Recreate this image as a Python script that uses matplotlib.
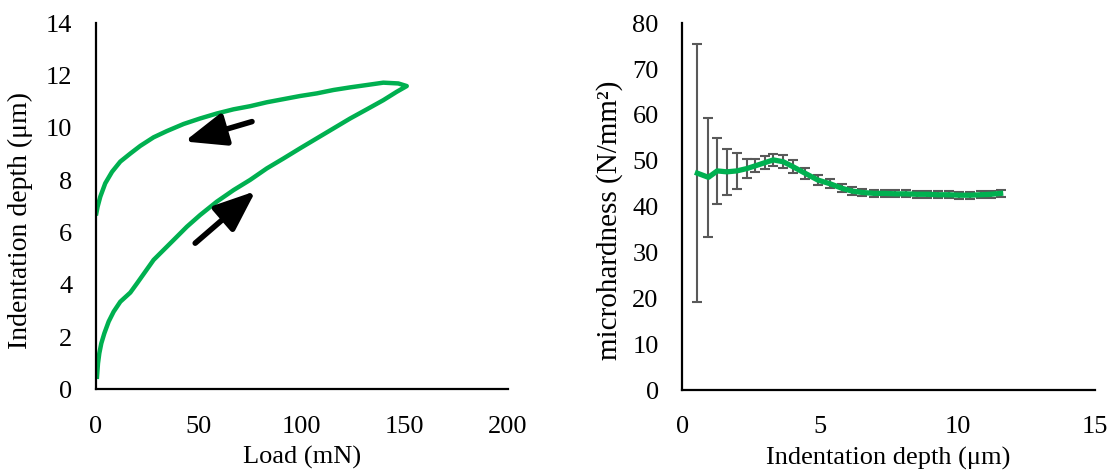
import matplotlib
matplotlib.use("Agg")
import matplotlib.pyplot as plt

# load-depth loop (loading then unloading)
load = [0.49, 0.97, 1.62, 2.59, 4.05, 6.15, 8.58, 11.81, 16.67, 19.9, 23.95, 28.0, 32.85, 37.7, 44.17, 50.65,
        58.74, 66.83, 74.9, 83.0, 91.1, 99.2, 107.3, 115.4, 123.5, 131.6, 139.6, 146.1, 151.0,
        146.9, 139.6, 131.6, 123.5, 115.4, 107.3, 99.2, 91.1, 83.0, 74.9, 66.8, 58.7, 50.6, 42.6, 34.5,
        28.0, 21.5, 16.7, 11.8, 7.8, 4.5, 2.1, 0.8, 0.16]
depth = [0.48, 0.99, 1.38, 1.76, 2.14, 2.59, 2.97, 3.35, 3.70, 4.05, 4.50, 4.95, 5.33, 5.71, 6.22, 6.67,
         7.18, 7.62, 8.01, 8.45, 8.83, 9.22, 9.60, 9.98, 10.36, 10.71, 11.06, 11.38, 11.60,
         11.70, 11.73, 11.64, 11.55, 11.45, 11.32, 11.22, 11.10, 10.98, 10.83, 10.71, 10.55, 10.36, 10.15, 9.88,
         9.64, 9.31, 9.02, 8.71, 8.32, 7.88, 7.37, 6.99, 6.73]

# microhardness vs depth
h_depth = [0.55, 0.95, 1.27, 1.62, 1.98, 2.34, 2.65, 3.00, 3.31, 3.67, 4.03, 4.46, 4.93, 5.37, 5.81,
           6.17, 6.53, 6.97, 7.36, 7.74, 8.13, 8.52, 8.91, 9.29, 9.68, 10.07, 10.46, 10.85, 11.21, 11.57]
hardness = [47.3, 46.4, 47.8, 47.6, 47.8, 48.3, 48.9, 49.6, 50.2, 49.8, 48.7, 47.3, 45.8, 45.0, 44.0,
            43.4, 43.1, 42.9, 42.9, 42.8, 42.8, 42.7, 42.7, 42.6, 42.6, 42.5, 42.5, 42.6, 42.7, 42.9]
h_err = [28.1, 13.0, 7.2, 5.0, 3.9, 2.1, 1.4, 1.45, 1.3, 1.45, 1.4, 1.2, 1.1, 1.0, 0.9,
         0.85, 0.8, 0.8, 0.8, 0.8, 0.8, 0.8, 0.8, 0.8, 0.8, 0.8, 0.8, 0.8, 0.8, 0.8]

GREEN = "#00B050"
GREY = "#595959"
FS = 19
plt.rcParams["font.family"] = ["Liberation Serif", "DejaVu Serif"]
plt.rcParams["font.size"] = FS

fig = plt.figure(figsize=(11.11, 4.72), dpi=100)
ax1 = fig.add_axes([0.0864, 0.1752, 0.3705, 0.7754])
ax2 = fig.add_axes([0.6141, 0.1737, 0.3715, 0.7769])

for ax in (ax1, ax2):
    for s in ("top", "right"):
        ax.spines[s].set_visible(False)
    for s in ("left", "bottom"):
        ax.spines[s].set_linewidth(1.6)
    ax.tick_params(length=0, labelsize=FS)
    ax.tick_params(axis="x", pad=19)
    ax.tick_params(axis="y", pad=17)

# ---- left: load-depth loop
ax1.plot(load, depth, color=GREEN, lw=3.2, solid_joinstyle="round")
arrow = dict(arrowstyle="-|>,head_length=1.25,head_width=0.5", color="black", lw=4.0,
             shrinkA=0, shrinkB=0, mutation_scale=20)
ax1.annotate("", xy=(43.0, 9.48), xytext=(75.8, 10.24), arrowprops=arrow)
ax1.annotate("", xy=(77.5, 7.58), xytext=(48.2, 5.59), arrowprops=arrow)
ax1.set_xlim(0, 200)
ax1.set_ylim(0, 14)
ax1.set_xticks([0, 50, 100, 150, 200])
ax1.set_yticks(range(0, 15, 2))
ax1.set_xlabel("Load (mN)", fontsize=FS, labelpad=6)
ax1.set_ylabel("Indentation depth (μm)", fontsize=20)
ax1.yaxis.set_label_coords(-0.153, 0.46)

# ---- right: microhardness
ax2.errorbar(h_depth, hardness, yerr=h_err, fmt="none", ecolor=GREY, elinewidth=1.5,
             capsize=3.8, capthick=1.5)
ax2.plot(h_depth, hardness, color=GREEN, lw=3.8, solid_joinstyle="round")
ax2.set_xlim(0, 15)
ax2.set_ylim(0, 80)
ax2.set_xticks([0, 5, 10, 15])
ax2.set_yticks(range(0, 81, 10))
ax2.set_xlabel("Indentation depth (μm)", fontsize=FS, labelpad=6)
ax2.set_ylabel("microhardness (N/mm²)", fontsize=21)
ax2.yaxis.set_label_coords(-0.144, 0.464)

fig.savefig("out.png", dpi=100)
